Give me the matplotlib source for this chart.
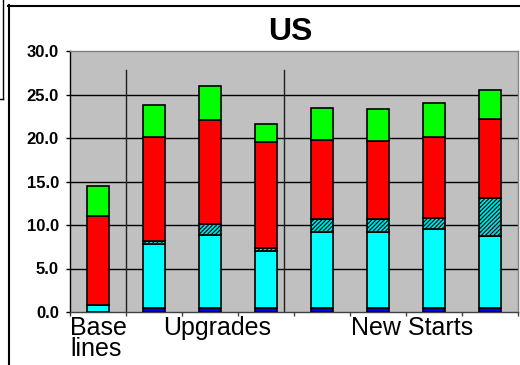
import matplotlib
matplotlib.use("Agg")
import matplotlib.pyplot as plt
from matplotlib.lines import Line2D
import numpy as np

# Data (segment heights, stacked bottom -> top)
slots = [0, 1, 2, 3, 4, 5, 6, 7]
blue = [0.0, 0.5, 0.5, 0.5, 0.5, 0.5, 0.5, 0.5]
cyan = [0.85, 7.3, 8.3, 6.5, 8.7, 8.7, 9.0, 8.2]
hatched = [0.0, 0.35, 1.35, 0.3, 1.5, 1.5, 1.35, 4.35]
red = [10.15, 11.95, 11.95, 12.25, 9.05, 8.9, 9.25, 9.1]
green = [3.5, 3.75, 3.9, 2.05, 3.75, 3.75, 3.9, 3.4]
yticks = [0, 5, 10, 15, 20, 25, 30]
ytick_labels = ["0.0", "5.0", "10.0", "15.0", "20.0", "25.0", "30.0"]
group_labels = ["Base\nlines", "Upgrades", "New Starts"]
separators = [1.0, 3.82]

W, H = 520, 365
fig = plt.figure(figsize=(W / 100, H / 100), dpi=100)
fig.patch.set_facecolor("white")

def fx(px):
    return px / W

def fy(py):
    return 1 - py / H

ax_l, ax_r, ax_t, ax_b = 70, 518, 51, 312
ax = fig.add_axes([fx(ax_l), fy(ax_b), fx(ax_r - ax_l), (ax_b - ax_t) / H])
ax.set_facecolor("#c0c0c0")
ax.set_xlim(0, 8)
ax.set_ylim(0, 30)

# gridlines
for v in yticks[1:-1]:
    ax.axhline(v, color="black", lw=1.0, zorder=1)

x = np.array(slots) + 0.5
w = 0.4
bottom = np.zeros(len(x))
segs = [
    (blue, "#0000ff", None),
    (cyan, "#00ffff", None),
    (hatched, "#00e0e0", "////////"),
    (red, "#ff0000", None),
    (green, "#00ff00", None),
]
plt.rcParams["hatch.linewidth"] = 0.8
for vals, col, hatch in segs:
    vals = np.array(vals)
    ax.bar(x, vals, w, bottom=bottom, color=col, edgecolor="black",
           linewidth=1.2, hatch=hatch, zorder=3)
    bottom = bottom + vals

for s in separators:
    ax.plot([s, s], [0, 27.8], color="#202020", lw=1.0, zorder=2)

ax.set_yticks(yticks)
ax.set_yticklabels(ytick_labels, fontweight="bold",
                   family=["Liberation Sans Narrow", "Liberation Sans"], fontsize=12)
ax.set_xticks(range(9))
ax.set_xticklabels([])
ax.tick_params(axis="y", length=3, width=1, pad=5, color="black", direction="out")
ax.tick_params(axis="x", length=3, width=1, color="#404040", direction="out")

ax.spines["left"].set_color("black")
ax.spines["left"].set_linewidth(1.0)
ax.spines["bottom"].set_color("#404040")
ax.spines["bottom"].set_linewidth(1.0)
ax.spines["top"].set_color("#808080")
ax.spines["right"].set_color("#808080")
ax.spines["top"].set_linewidth(1.0)
ax.spines["right"].set_linewidth(1.0)

# title
fig.text(fx(290), fy(32), "US", ha="center", va="center", fontsize=23,
         fontweight="bold", family=["Liberation Sans Narrow", "Liberation Sans"])

# group labels
fig.text(fx(70), fy(356), group_labels[0], ha="left", va="baseline", fontsize=18,
         family="Liberation Sans", linespacing=0.82, multialignment="left")
fig.text(fx(163), fy(335), group_labels[1], ha="left", va="baseline", fontsize=18,
         family="Liberation Sans")
fig.text(fx(351), fy(335), group_labels[2], ha="left", va="baseline", fontsize=18,
         family="Liberation Sans")

# outer frame and clipped neighbour box
fig.add_artist(Line2D([fx(8.5), fx(8.5)], [fy(5), fy(365)], color="black", lw=1.5,
                      transform=fig.transFigure))
fig.add_artist(Line2D([fx(8), fx(520)], [fy(5.5), fy(5.5)], color="black", lw=1.5,
                      transform=fig.transFigure))
fig.add_artist(Line2D([fx(2.5), fx(2.5)], [fy(0), fy(99)], color="black", lw=1.0,
                      transform=fig.transFigure))
fig.add_artist(Line2D([fx(0), fx(2.5)], [fy(99), fy(99)], color="black", lw=1.0,
                      transform=fig.transFigure))

fig.savefig("out.png", dpi=100)
